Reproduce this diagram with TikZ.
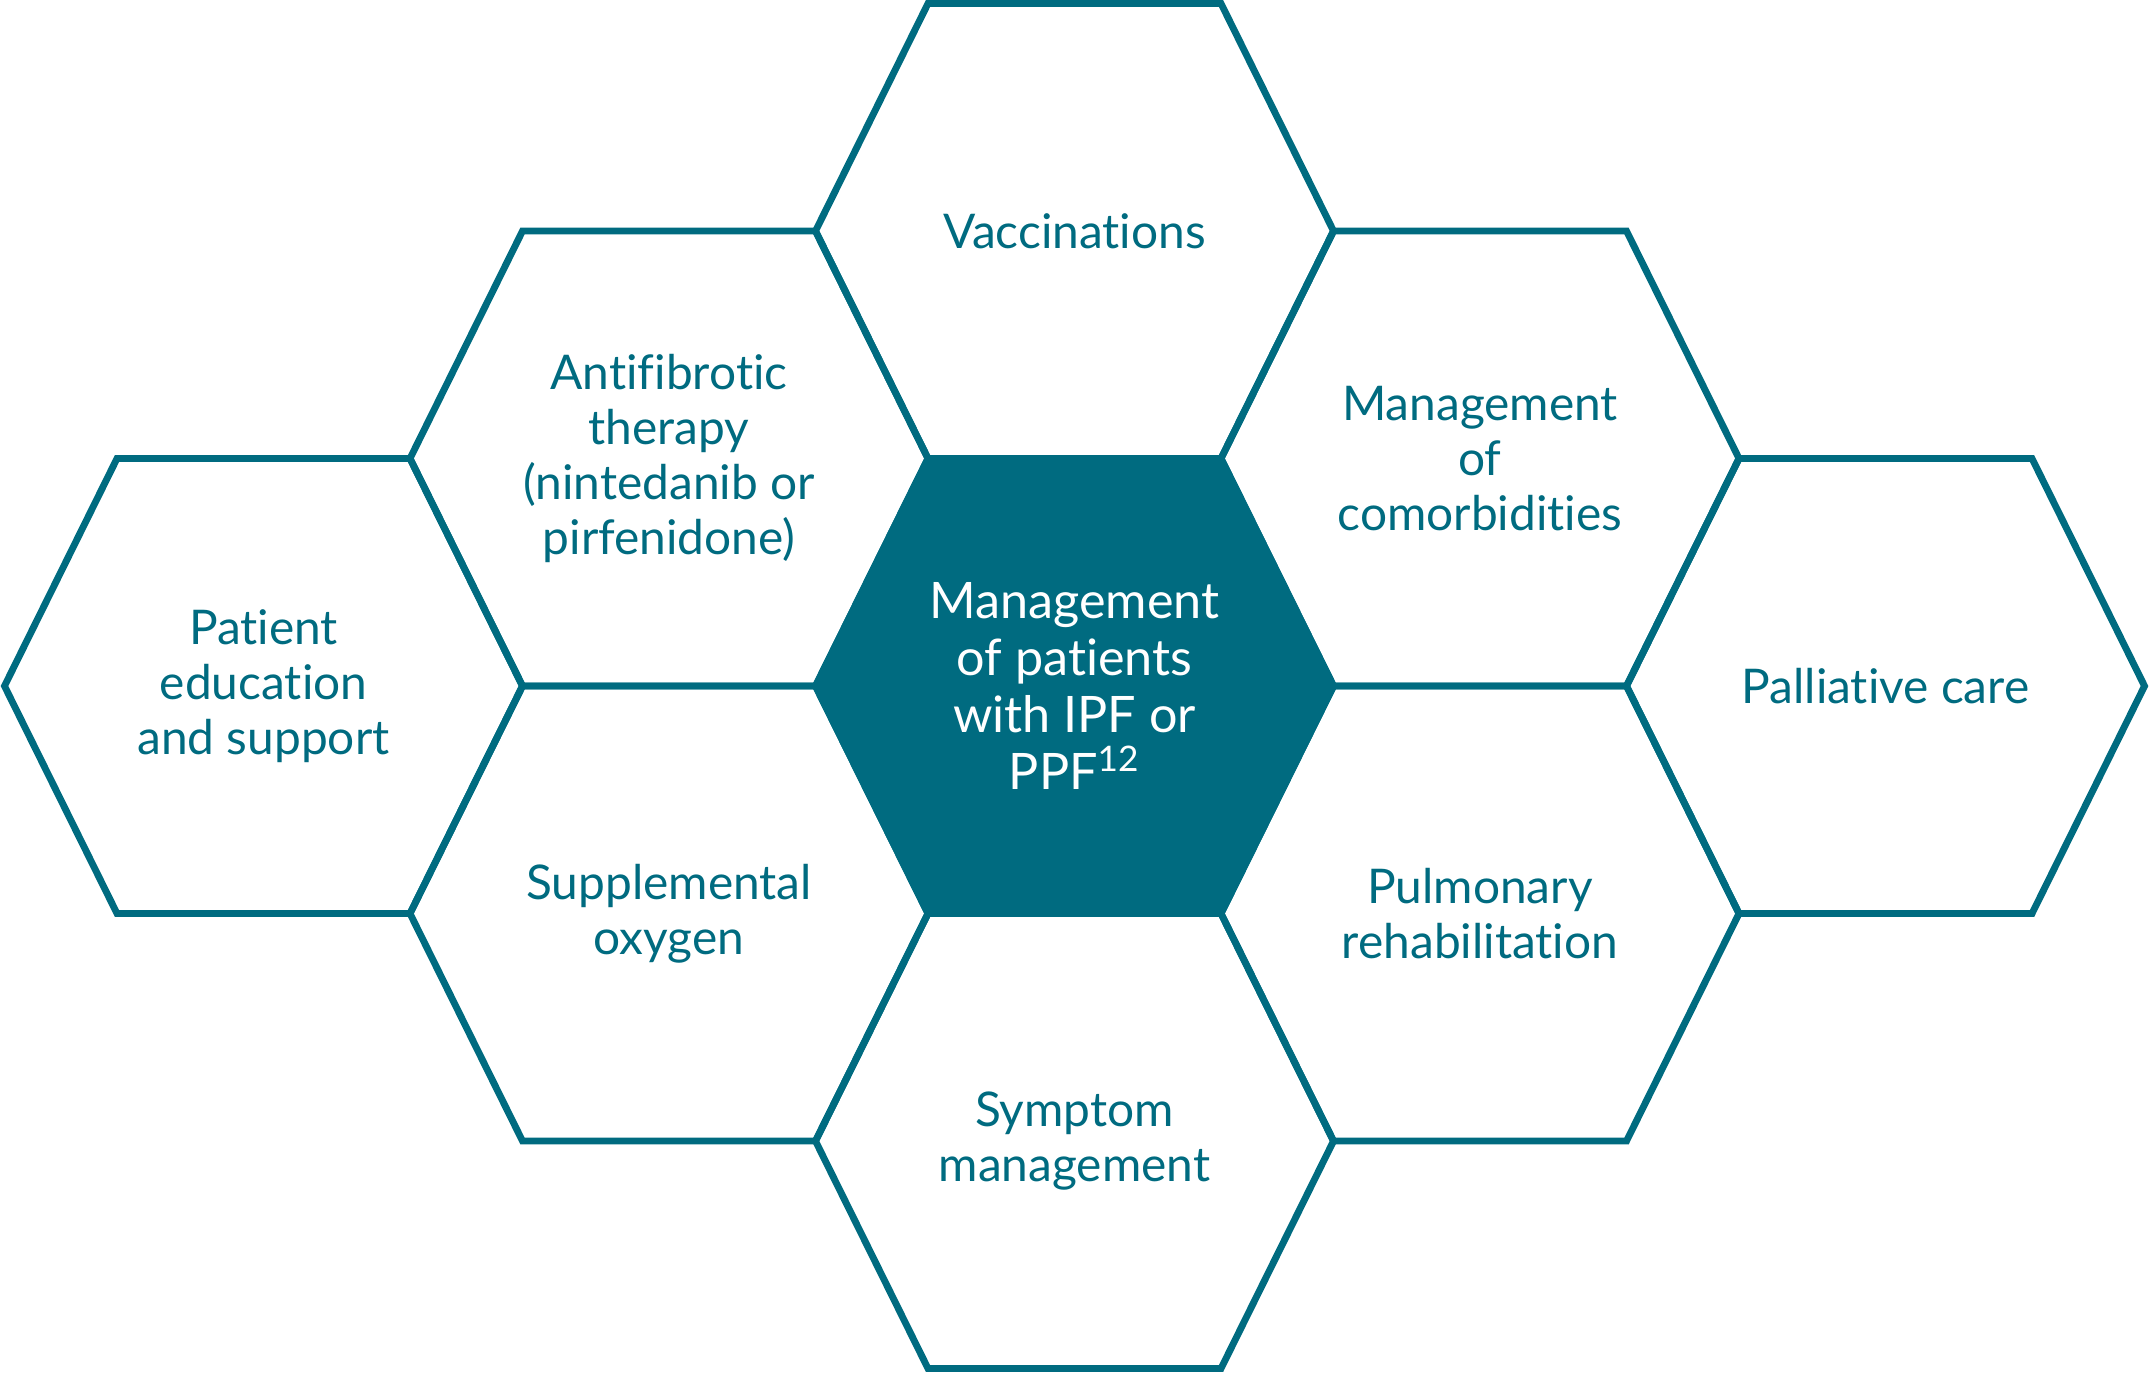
\documentclass[tikz,border=0pt]{standalone}
\usepackage{fontspec}
\setmainfont{Lato}[Ligatures={NoCommon}]
\definecolor{ipfteal}{HTML}{006B80}
\tikzset{
  hexcell/.style={draw=ipfteal, line width=1.95pt},
  corecell/.style={fill=ipfteal, draw=ipfteal, line width=1.95pt},
  celltext/.style={text=ipfteal, align=center, font=\fontsize{13.6}{15.6}\selectfont},
  coretext/.style={text=white, align=center, font=\fontsize{14.3}{16.2}\selectfont},
}
% hexagon outline round a centre
\newcommand{\hexat}[1]{(#1) +(-259,0) -- +(-146.5,-227.5) -- +(146.5,-227.5)
  -- +(259,0) -- +(146.5,227.5) -- +(-146.5,227.5) -- cycle}
\begin{document}
\begin{tikzpicture}[x=0.01cm, y=-0.01cm]
    \useasboundingbox (0,0) rectangle (2149,1372);
    % Centre cell
    \path[corecell] \hexat{1074.5,686};
    \node[coretext] (core) at (1074.5,686) {Management\\of patients\\with IPF or\\PPF\textsuperscript{12}};
    % Ring of cells
    \foreach \id/\pos/\txt in {
        vacc/{1074.5,231}/{Vaccinations},
        symp/{1074.5,1141}/{Symptom\\management},
        anti/{669,458.5}/{Antifibrotic\\therapy\\(nintedanib or\\pirfenidone)},
        oxyg/{669,913.5}/{Supplemental\\oxygen},
        comb/{1480,458.5}/{Management\\of\\comorbidities},
        rehab/{1480,913.5}/{Pulmonary\\rehabilitation},
        educ/{263.5,686}/{Patient\\education\\and support},
        pall/{1885.5,686}/{Palliative care}} {
      \draw[hexcell] \hexat{\pos};
      \node[celltext] (\id) at (\pos) {\txt};
    }
\end{tikzpicture}
\end{document}
